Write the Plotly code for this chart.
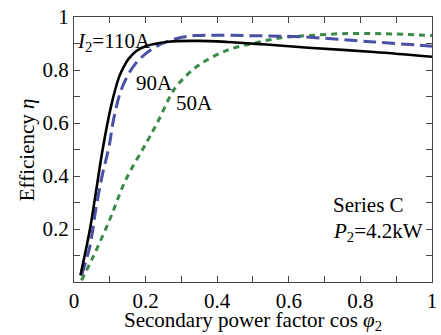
import plotly.graph_objects as go

# Data
black_x = [0.018, 0.044, 0.062, 0.08, 0.103, 0.126, 0.14, 0.153, 0.175, 0.2, 0.263, 0.345, 0.427, 0.528, 0.655, 0.838, 1.0]
black_y = [0.025, 0.195, 0.346, 0.50, 0.66, 0.774, 0.815, 0.843, 0.873, 0.89, 0.907, 0.91, 0.906, 0.897, 0.884, 0.868, 0.85]

blue_x = [0.021, 0.044, 0.062, 0.08, 0.097, 0.112, 0.135, 0.172, 0.227, 0.29, 0.34, 0.473, 0.637, 0.838, 1.0]
blue_y = [0.025, 0.132, 0.283, 0.41, 0.505, 0.623, 0.736, 0.824, 0.887, 0.92, 0.93, 0.93, 0.925, 0.906, 0.89]

green_x = [0.021, 0.053, 0.099, 0.144, 0.2, 0.236, 0.272, 0.29, 0.345, 0.427, 0.518, 0.592, 0.655, 0.747, 0.866, 1.0]
green_y = [0.006, 0.094, 0.233, 0.384, 0.52, 0.61, 0.71, 0.745, 0.815, 0.874, 0.906, 0.924, 0.93, 0.937, 0.937, 0.93]

x_ticks = [0, 0.2, 0.4, 0.6, 0.8, 1]
x_tick_labels = ["0", "0.2", "0.4", "0.6", "0.8", "1"]
y_ticks = [0.2, 0.4, 0.6, 0.8, 1]
y_tick_labels = ["0.2", "0.4", "0.6", "0.8", "1"]

FONT = "Liberation Serif"
FS = 21

fig = go.Figure()
fig.add_trace(go.Scatter(x=green_x, y=green_y, mode="lines", line=dict(color="#3c8a48", width=3, dash="6px,5px", shape="spline"), showlegend=False))
fig.add_trace(go.Scatter(x=blue_x, y=blue_y, mode="lines", line=dict(color="#4a50a6", width=3, dash="13px,6px", shape="spline"), showlegend=False))
fig.add_trace(go.Scatter(x=black_x, y=black_y, mode="lines", line=dict(color="black", width=2.6, shape="spline"), showlegend=False))

ann_font = dict(family=FONT, size=FS, color="black")
fig.add_annotation(x=0.004, y=0.905, text="<i>I</i><sub>2</sub>=110A", showarrow=False, xanchor="left", yanchor="middle", font=ann_font)
fig.add_annotation(x=0.226, y=0.75, text="90A", showarrow=False, xanchor="center", yanchor="middle", font=ann_font)
fig.add_annotation(x=0.336, y=0.674, text="50A", showarrow=False, xanchor="center", yanchor="middle", font=ann_font)
fig.add_annotation(x=0.718, y=0.29, text="Series C", showarrow=False, xanchor="left", yanchor="middle", font=ann_font)
fig.add_annotation(x=0.718, y=0.19, text="<i>P</i><sub>2</sub>=4.2kW", showarrow=False, xanchor="left", yanchor="middle", font=ann_font)

# Axis titles
fig.add_annotation(xref="paper", yref="paper", x=0.499, y=-0.147, text="Secondary power factor cos <i>φ</i><sub>2</sub>",
                   showarrow=False, xanchor="center", yanchor="middle", font=ann_font)
fig.add_annotation(xref="paper", yref="paper", x=-0.132, y=0.5, text="Efficiency <i>η</i>", textangle=-90,
                   showarrow=False, xanchor="center", yanchor="middle", font=ann_font)

axis_common = dict(
    showgrid=False, zeroline=False, showline=True, linecolor="#444", linewidth=1.2,
    mirror="ticks", ticks="inside", ticklen=6, tickcolor="#444", tickwidth=1.2,
    tickfont=dict(family=FONT, size=FS, color="black"),
    minor=dict(dtick=0.1, ticks="inside", ticklen=6, tickcolor="#444", tickwidth=1.2),
    ticklabeloverflow="allow",
)

fig.update_xaxes(range=[0, 1.0001], tickvals=x_ticks, ticktext=x_tick_labels, **axis_common)
fig.update_yaxes(range=[0, 1.0001], tickvals=y_ticks, ticktext=y_tick_labels, **axis_common)

fig.update_layout(
    width=441, height=335,
    margin=dict(l=74, r=4, t=17, b=53),
    plot_bgcolor="white", paper_bgcolor="white",
    font=dict(family=FONT),
)

fig.write_html("out.html", config={"displayModeBar": False},
               post_script="document.body.style.margin='0';")
